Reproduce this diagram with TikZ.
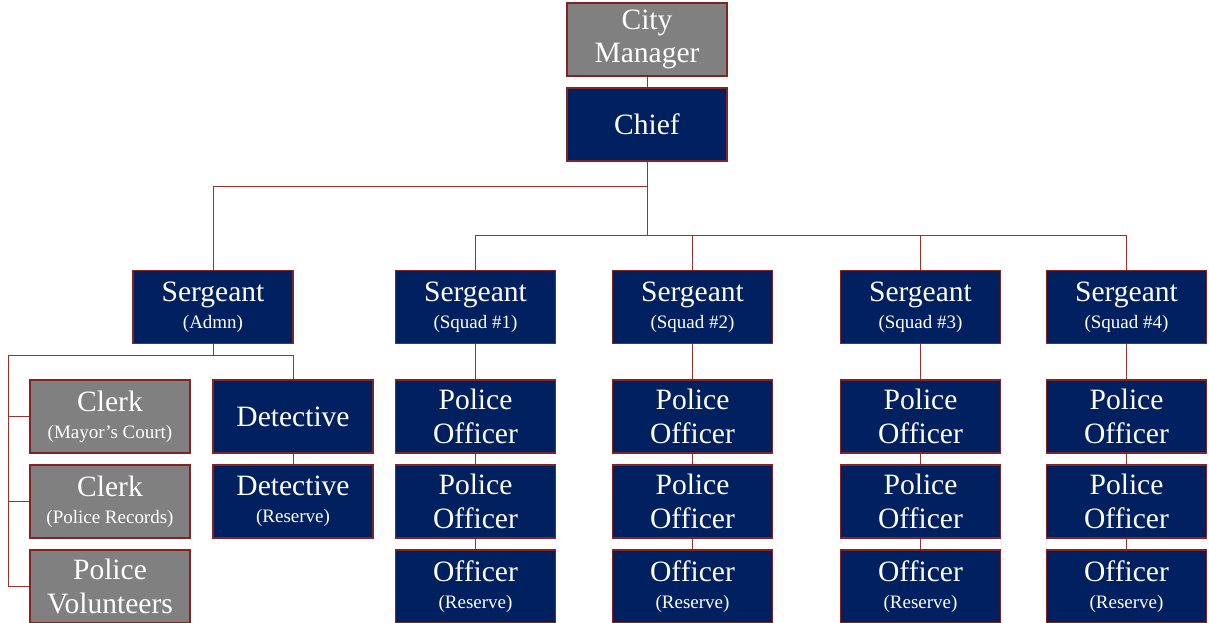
\documentclass[tikz,border=0pt]{standalone}
\usepackage{fontspec}
\setmainfont{Liberation Serif}
\definecolor{navy}{RGB}{0,32,96}
\definecolor{greybox}{RGB}{128,128,128}
\definecolor{edgered}{RGB}{128,36,36}
\definecolor{linkred}{RGB}{150,50,50}
\newcommand{\subttl}[1]{{\fontsize{13.5}{15}\selectfont #1}}
\tikzset{
  post/.style={draw=edgered, line width=0.8pt, fill=navy, text=white, minimum width=4cm,
    minimum height=1.825cm, inner sep=0pt, align=center,
    font=\fontsize{21}{24}\selectfont},
  civil/.style={post, fill=greybox},
  link/.style={draw=linkred, line width=0.6pt}
}
\begin{document}
\begin{tikzpicture}[x=0.025cm,y=-0.025cm]
	\useasboundingbox (0,0) rectangle (1209,623);
	\node[civil] (cm) at (647,39.5) {City\\Manager};
	\node[post] (chief) at (647,124.5) {Chief};
	\node[post] (sgtA) at (213,307) {Sergeant\\[-5pt]\subttl{(Admn)}};
	\node[post] (sgt1) at (475.5,307) {Sergeant\\[-5pt]\subttl{(Squad \#1)}};
	\node[post] (sgt2) at (692.5,307) {Sergeant\\[-5pt]\subttl{(Squad \#2)}};
	\node[post] (sgt3) at (920.5,307) {Sergeant\\[-5pt]\subttl{(Squad \#3)}};
	\node[post] (sgt4) at (1126.5,307) {Sergeant\\[-5pt]\subttl{(Squad \#4)}};
	\node[civil] (clk1) at (110,416.5) {Clerk\\[-5pt]\subttl{(Mayor's Court)}};
	\node[civil] (clk2) at (110,501.5) {Clerk\\[-5pt]\subttl{(Police Records)}};
	\node[civil] (vol) at (110,586.5) {Police\\Volunteers};
	\node[post] (det1) at (293,416.5) {Detective};
	\node[post] (det2) at (293,501.5) {Detective\\[-5pt]\subttl{(Reserve)}};
	\foreach \s/\x in {1/475.5,2/692.5,3/920.5,4/1126.5}{
		\node[post] (poa\s) at (\x,416.5) {Police\\Officer};
		\node[post] (pob\s) at (\x,501.5) {Police\\Officer};
		\node[post] (res\s) at (\x,586.5) {Officer\\[-5pt]\subttl{(Reserve)}};
	}
	\coordinate (ja) at (647,186);
	\coordinate (jb) at (647,235);
	\coordinate (jc) at (213,355);
	\coordinate (lc) at (8,355);
	\draw[link] (cm) -- (chief);
	\draw[link] (chief) -- (ja) -| (sgtA);
	\draw[link] (ja) -- (jb);
	\foreach \s in {1,...,4}{
		\draw[link] (jb) -| (sgt\s);
		\draw[link] (sgt\s) -- (poa\s) -- (pob\s) -- (res\s);
	}
	\draw[link] (sgtA) -- (jc) -| (det1);
	\draw[link] (det1) -- (det2);
	\draw[link] (jc) -- (lc) |- (vol);
	\draw[link] (lc) |- (clk1);
	\draw[link] (lc) |- (clk2);
\end{tikzpicture}
\end{document}
